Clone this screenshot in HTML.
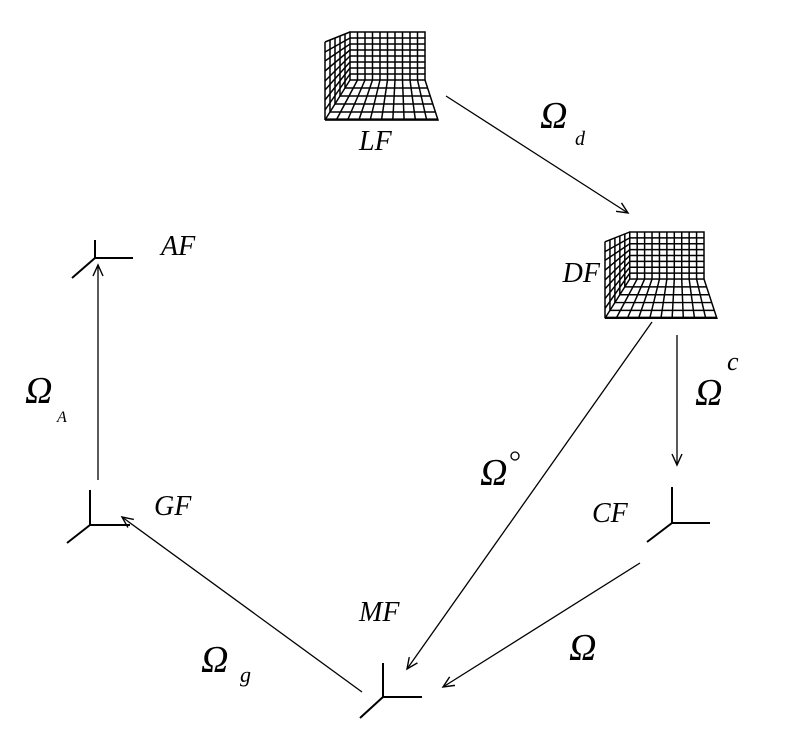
<!DOCTYPE html>
<html><head><meta charset="utf-8"><style>
html,body{margin:0;padding:0;background:#fff;}
svg{display:block;}
text{font-family:"Liberation Serif",serif;font-style:italic;fill:#000;}
</style></head><body>
<svg width="795" height="743" viewBox="0 0 795 743" xmlns="http://www.w3.org/2000/svg">
<defs>
<marker id="ah" markerWidth="14" markerHeight="12" refX="12" refY="6" orient="auto" markerUnits="userSpaceOnUse">
<path d="M1,1 L12,6 L1,11" fill="none" stroke="#000" stroke-width="1.4"/>
</marker>
<g id="grid" fill="none" stroke="#000" stroke-width="1.5">
<rect x="25" y="0" width="75" height="48"/>
<path d="M32.5,0V48M40,0V48M47.5,0V48M55,0V48M62.5,0V48M70,0V48M77.5,0V48M85,0V48M92.5,0V48"/>
<path d="M25,6H100M25,12H100M25,18H100M25,24H100M25,30H100M25,36H100M25,42H100"/>
<path d="M0,10L25,0M0,10V88"/>
<path d="M5,8V80M10,6V72M15,4V64M20,2V56"/>
<path d="M0,20L25,6M0,29L25,12M0,39L25,18M0,49L25,24M0,58L25,30M0,68L25,36M0,78L25,42"/>
<path d="M0,88H113L100,48M20,56H102.6M15,64H105.2M10,72H107.8M5,80H110.4"/>
<path d="M25,48L0,88M32.5,48L11.3,88M40,48L22.6,88M47.5,48L33.9,88M55,48L45.2,88M62.5,48L56.5,88M70,48L67.8,88M77.5,48L79.1,88M85,48L90.4,88M92.5,48L101.7,88"/>
<path d="M0,87.5H113" stroke-width="2.2"/>
</g>
</defs>
<use href="#grid" transform="translate(325,32)"/>
<use href="#grid" transform="translate(605,232) scale(0.99,0.98)"/>

<g stroke="#000" stroke-width="2" fill="none">
<path d="M95,240V258H133M95,258L72,278"/>
<path d="M90,490V525H130M90,525L67,543"/>
<path d="M672,487V523H710M672,523L647,542"/>
<path d="M383,663V697H422M383,697L360,718"/>
</g>

<g stroke="#000" stroke-width="1.3" fill="none" marker-end="url(#ah)">
<line x1="446" y1="96" x2="628" y2="213"/>
<line x1="677" y1="335" x2="677" y2="465"/>
<line x1="98" y1="480" x2="98" y2="265"/>
<line x1="652" y1="322" x2="407" y2="669"/>
<line x1="640" y1="563" x2="443" y2="687"/>
<line x1="362" y1="692" x2="122" y2="517"/>
</g>

<g font-size="28">
<text x="359" y="150">LF</text>
<text x="161" y="255">AF</text>
<text x="600" y="282" text-anchor="end">DF</text>
<text x="154" y="515">GF</text>
<text x="592" y="522">CF</text>
<text x="359" y="621">MF</text>
</g>
<g font-size="38">
<text x="540" y="128">Ω</text>
<text x="25" y="403">Ω</text>
<text x="695" y="405">Ω</text>
<text x="480" y="485">Ω</text>
<text x="569" y="660">Ω</text>
<text x="201" y="672">Ω</text>
</g>
<text x="575" y="145" font-size="20">d</text>
<text x="57" y="422" font-size="16">A</text>
<text x="727" y="370" font-size="26">c</text>
<circle cx="515" cy="456" r="4" fill="none" stroke="#000" stroke-width="1.3"/>
<text x="240" y="682" font-size="22">g</text>
</svg>
</body></html>
